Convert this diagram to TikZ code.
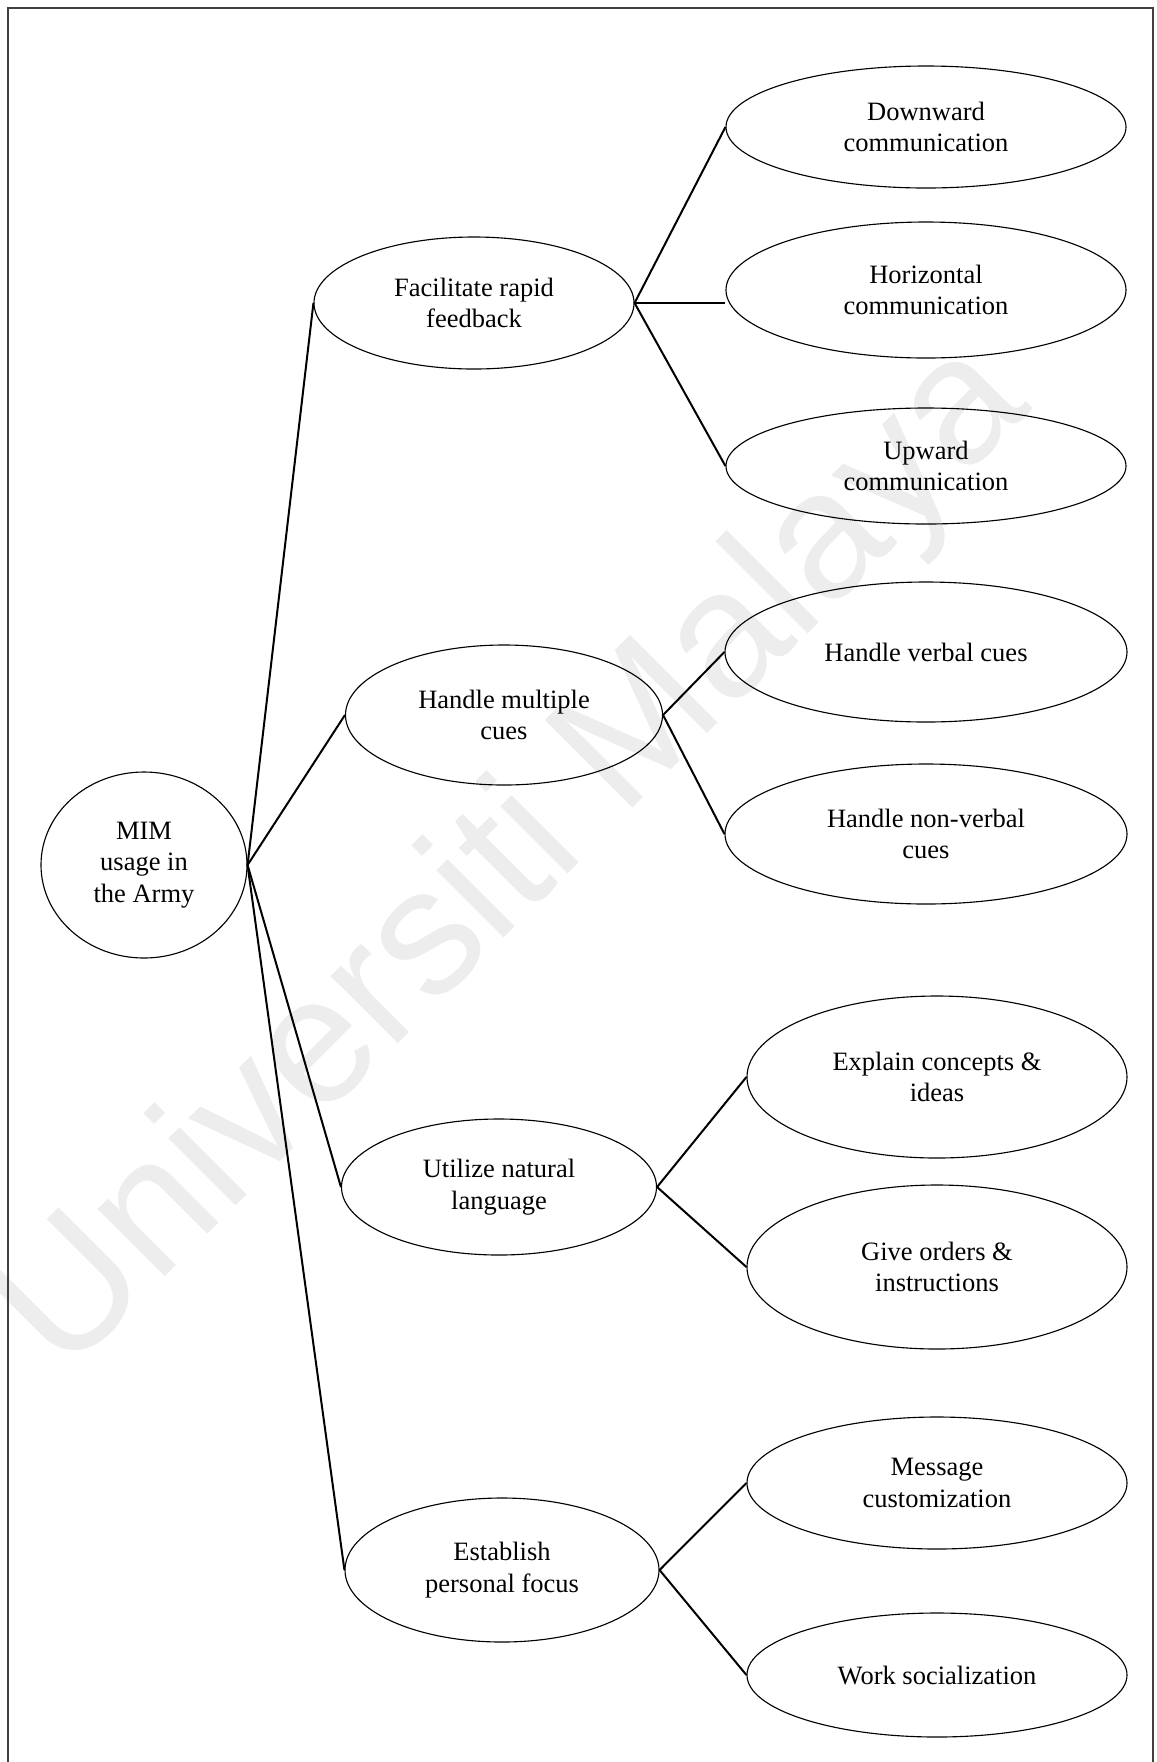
\documentclass[tikz,border=0pt]{standalone}
\usepackage{fontspec}
\setmainfont{Liberation Serif}
\newfontfamily\wmfont{Liberation Sans}
\usetikzlibrary{shapes.geometric}
\tikzset{
  bub/.style={draw=black, line width=0.45pt, ellipse, inner sep=0pt, align=center,
    font=\fontsize{10.6}{12.6}\selectfont},
  conn/.style={draw=black, line width=0.8pt},
}
\begin{document}
\begin{tikzpicture}[x=0.4pt, y=-0.4pt]
\useasboundingbox (0,0) rectangle (1157,1762);
\fill[white] (0,0) rectangle (1157,1762);
% watermark
\node[text=black!7, rotate=45, font=\wmfont\fontsize{72}{72}\selectfont, inner sep=0pt] (wm) at (516,860) {Universiti Malaya};
% frame
\draw[line width=0.6pt, black!75] (8,1762) -- (8,8) -- (1153,8) -- (1153,1762);
% nodes
\node[bub, minimum width=82.4pt, minimum height=74.4pt] (root) at (144,865) {MIM\\usage in\\the Army};
\node[bub, minimum width=128pt, minimum height=52.8pt] (frf) at (474,303) {Facilitate rapid\\feedback};
\node[bub, minimum width=126.8pt, minimum height=56pt] (hmc) at (504,715) {Handle multiple\\cues};
\node[bub, minimum width=126pt, minimum height=54.4pt] (unl) at (499,1187) {Utilize natural\\language};
\node[bub, minimum width=125.6pt, minimum height=57.6pt] (epf) at (502,1570) {Establish\\personal focus};
\node[bub, minimum width=160pt, minimum height=48.8pt] (down) at (926,127) {Downward\\communication};
\node[bub, minimum width=160pt, minimum height=54.4pt] (horiz) at (926,290) {Horizontal\\communication};
\node[bub, minimum width=160pt, minimum height=46.4pt] (up) at (926,466) {Upward\\communication};
\node[bub, minimum width=160.8pt, minimum height=56pt] (verbal) at (926,652) {Handle verbal cues};
\node[bub, minimum width=160.8pt, minimum height=56pt] (nonverbal) at (926,834) {Handle non-verbal\\cues};
\node[bub, minimum width=152pt, minimum height=64.8pt] (explain) at (937,1077) {Explain concepts \&\\ideas};
\node[bub, minimum width=152pt, minimum height=65.6pt] (orders) at (937,1267) {Give orders \&\\instructions};
\node[bub, minimum width=152pt, minimum height=52.8pt] (message) at (937,1483) {Message\\customization};
\node[bub, minimum width=152pt, minimum height=49.6pt] (work) at (937,1675) {Work socialization};
% connectors
\draw[conn] (root.east) -- (frf.west);
\draw[conn] (root.east) -- (hmc.west);
\draw[conn] (root.east) -- (unl.west);
\draw[conn] (root.east) -- (epf.west);
\draw[conn] (frf.east) -- (down.west);
\draw[conn] (frf.east) -- (frf.east -| horiz.west);
\draw[conn] (frf.east) -- (up.west);
\draw[conn] (hmc.east) -- (verbal.west);
\draw[conn] (hmc.east) -- (nonverbal.west);
\draw[conn] (unl.east) -- (explain.west);
\draw[conn] (unl.east) -- (orders.west);
\draw[conn] (epf.east) -- (message.west);
\draw[conn] (epf.east) -- (work.west);
\end{tikzpicture}
\end{document}
